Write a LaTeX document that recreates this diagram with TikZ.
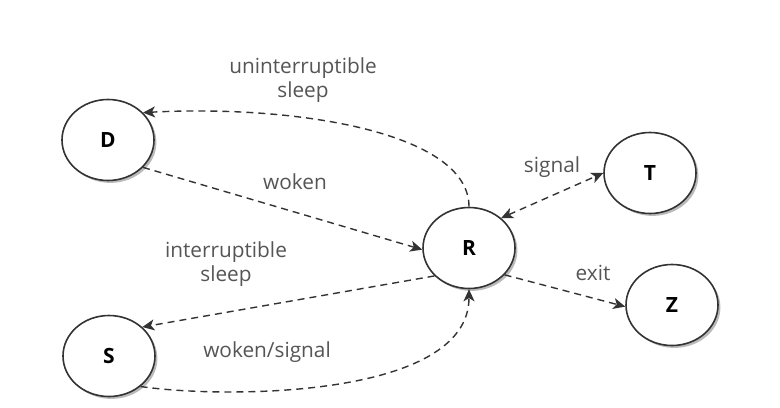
\documentclass[tikz,border=0pt]{standalone}
\usepackage{fontspec}
\setsansfont{Open Sans}
\usetikzlibrary{arrows.meta}
\usetikzlibrary{shapes.geometric}
\usetikzlibrary{shadows}
\definecolor{linegray}{HTML}{333333}
\definecolor{textgray}{HTML}{555555}

\begin{document}
\begin{tikzpicture}[
	x=0.5pt, y=-0.5pt,
  > = {Stealth[length=6pt,width=5.5pt,inset=1.6pt]},
  state/.style = {ellipse,draw=linegray,line width=0.8pt,fill=white,minimum width=46pt,minimum height=40.5pt,
    font=\sffamily\bfseries\fontsize{10.5}{12}\selectfont,
    drop shadow={shadow xshift=1.2pt,shadow yshift=-1.2pt,fill=black!45,opacity=0.6}},
  trans/.style = {draw=linegray,line width=0.7pt,dash pattern=on 3.5pt off 2.5pt},
  lbl/.style = {text=textgray,align=center,font=\sffamily\fontsize{10.4}{12}\selectfont}
  ]
	\useasboundingbox (0,0) rectangle (780,407);

	\node[state] (D) at (108,140) {D};
	\node[state] (R) at (469,248) {R};
	\node[state] (T) at (650,173) {T};
	\node[state] (Z) at (672,305) {Z};
	\node[state] (S) at (109,356) {S};

	\node[lbl] (lUsleep) at (303,80) {uninterruptible\\sleep};
	\node[lbl] (lWoken) at (295,182) {woken};
	\node[lbl] (lIsleep) at (226,264) {interruptible\\sleep};
	\node[lbl] (lWsig) at (267,352) {woken/signal};
	\node[lbl] (lSig) at (552,167) {signal};
	\node[lbl] (lExit) at (593,273) {exit};

	\draw[trans,->] (R.north) .. controls +(0,-75) and +(150,-8) .. (D.38);
	\draw[trans,->] (D.-38) -- (R.182);
	\draw[trans,->] (R.219) -- (S.41);
	\draw[trans,->] (S.-44) .. controls +(80,12) and +(0,110) .. (R.south);
	\draw[trans,<->] (R.43) -- (T.west);
	\draw[trans,->] (R.-37) -- (Z.182);

\end{tikzpicture}
\end{document}
